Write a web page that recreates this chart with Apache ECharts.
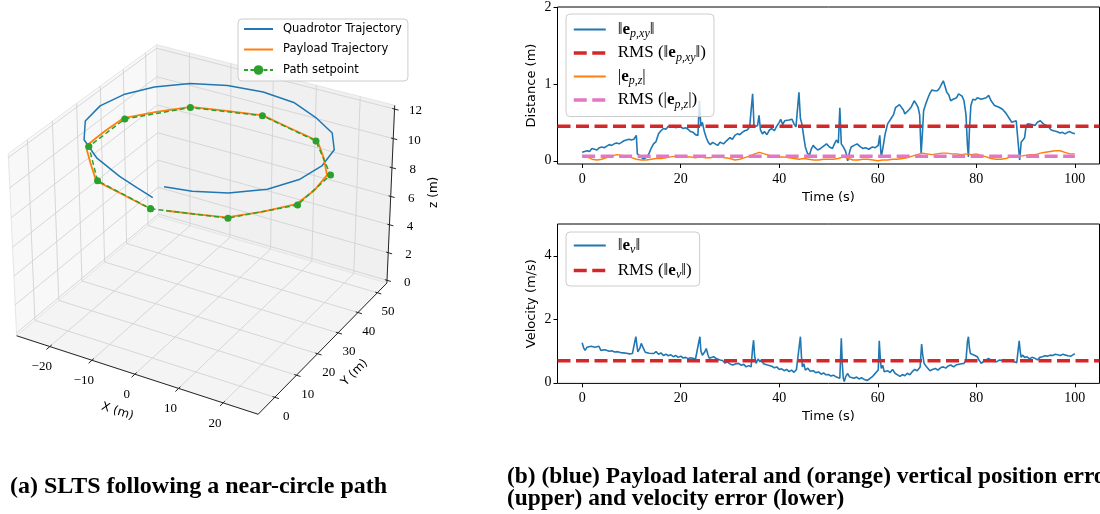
<!DOCTYPE html>
<html>
<head>
<meta charset="utf-8">
<script src="https://cdn.jsdelivr.net/npm/echarts@6/dist/echarts.min.js"></script>
<style>
  html, body { margin: 0; padding: 0; background: #fff; }
  #chart { width: 1100px; height: 514px; }
</style>
</head>
<body>
<div id="chart"></div>
<script>
// ---------------- data: 3D trajectories (metres) ----------------
const quadX = [3.1, 8.65, 14.93, 20.63, 24.06, 25.3, 24.35, 20.63, 14.58, 7.82, 0.0, -7.82, -14.93, -20.47, -23.97, -25.3, -24.35, -20.63, -14.69, -7.66, -3.41, 0.0];
const quadY = [0.0, 1.23, 4.45, 10.01, 17.18, 25.0, 32.91, 39.99, 45.06, 49.06, 50.2, 49.06, 45.55, 39.87, 32.79, 25.0, 17.09, 10.01, 4.77, 1.41, 0.74, 1.0];
const quadZ = [11.7, 11.7, 11.7, 11.7, 11.7, 11.7, 11.7, 11.65, 11.6, 11.6, 11.6, 11.6, 11.6, 11.6, 11.65, 11.7, 11.7, 11.6, 11.5, 11.3, 11.0, 10.6];

const payX = [3.0, 8.5, 14.3, 19.3, 23.4, 23.9, 23.2, 19.4, 14.9, 7.4, 0.0, -7.5, -14.8, -19.8, -24.2, -24.5, -24.4, -19.8, -14.9, -7.4, -1.2];
const payY = [0.9, 2.8, 4.9, 11.0, 17.4, 25.0, 32.3, 38.9, 45.5, 47.8, 50.2, 48.0, 45.6, 39.4, 33.0, 25.0, 17.1, 10.9, 4.6, 2.3, 0.3];
const payZ = [10.0, 10.0, 10.0, 10.0, 10.0, 10.0, 10.0, 10.0, 10.0, 10.0, 10.0, 10.0, 10.0, 10.0, 10.0, 10.0, 10.0, 10.0, 10.0, 10.0, 10.0];

const spX = [0, 14.69, 23.78, 23.78, 14.69, 0, -14.69, -23.78, -23.78, -14.69, 0];
const spY = [0, 4.78, 17.28, 32.72, 45.22, 50, 45.22, 32.72, 17.28, 4.78, 0];
const spZ = [10, 10, 10, 10, 10, 10, 10, 10, 10, 10, 10];

// 3D axis limits and ticks
const LIM_X = [-28, 27.75];
const LIM_Y = [-7.5, 55];
const LIM_Z = [-0.2, 12.25];
const TICKS_X = [-20, -10, 0, 10, 20];
const TICKS_Y = [0, 10, 20, 30, 40, 50];
const TICKS_Z = [0, 2, 4, 6, 8, 10, 12];

// ---------------- data: error time series ----------------
const posXY = [[0,0.11],[0.5,0.12],[1,0.13],[1.5,0.12],[2,0.16],[2.5,0.15],[3,0.14],[3.5,0.17],[4,0.18],[4.5,0.17],[5,0.19],[5.5,0.21],[6,0.2],[6.5,0.22],[7,0.23],[7.5,0.22],[8,0.24],[8.5,0.26],[9,0.27],[9.5,0.28],[10,0.27],[10.5,0.28],[11,0.33],[11.2,0.09],[11.6,0.1],[12,0.05],[12.4,0.02],[12.8,0.04],[13.2,0.05],[13.6,0.1],[14,0.16],[14.5,0.22],[15,0.25],[15.5,0.35],[16,0.39],[16.5,0.42],[17,0.41],[17.5,0.45],[18,0.44],[18.5,0.46],[19,0.43],[19.5,0.44],[20,0.44],[20.5,0.42],[21,0.43],[21.5,0.41],[22,0.38],[22.5,0.37],[23,0.34],[23.5,0.33],[23.8,0.78],[24.1,0.45],[24.4,0.5],[24.8,0.38],[25.2,0.3],[25.6,0.24],[26,0.21],[26.5,0.24],[27,0.22],[27.5,0.2],[28,0.24],[28.7,0.22],[29.3,0.26],[30,0.3],[30.5,0.28],[31,0.33],[31.5,0.35],[32,0.34],[32.5,0.37],[33,0.39],[33.5,0.4],[34,0.44],[34.3,0.42],[34.6,0.87],[34.9,0.44],[35.3,0.42],[35.6,0.46],[35.9,0.59],[36.2,0.4],[36.6,0.35],[37,0.38],[37.5,0.34],[38,0.4],[38.5,0.42],[39,0.39],[39.5,0.45],[40,0.5],[40.3,0.54],[40.7,0.47],[41.1,0.52],[41.5,0.5],[42,0.53],[42.6,0.54],[43,0.48],[43.4,0.44],[43.8,0.45],[44,0.89],[44.3,0.55],[44.6,0.48],[45,0.3],[45.3,0.18],[45.7,0.1],[46.1,0.07],[46.5,0.15],[46.9,0.2],[47.3,0.17],[47.8,0.14],[48.4,0.16],[49,0.19],[49.6,0.22],[50.2,0.18],[50.8,0.16],[51.2,0.22],[51.6,0.27],[52,0.23],[52.3,0.69],[52.6,0.22],[53,0.18],[53.5,0.12],[53.9,0.0],[54.3,0.12],[54.6,0.18],[55.2,0.2],[55.8,0.22],[56.5,0.18],[57,0.16],[57.5,0.17],[58.2,0.15],[58.9,0.18],[59.5,0.17],[60.1,0.2],[60.4,0.33],[60.7,0.05],[61,0.15],[61.5,0.35],[62,0.48],[62.4,0.5],[62.8,0.56],[63.2,0.6],[63.6,0.69],[64,0.67],[64.4,0.73],[64.8,0.74],[65.2,0.66],[65.5,0.61],[65.9,0.63],[66.3,0.66],[66.8,0.7],[67.4,0.78],[67.8,0.74],[68.2,0.69],[68.5,0.6],[68.8,0.09],[69.1,0.4],[69.3,0.65],[69.8,0.75],[70.2,0.82],[70.6,0.88],[71,0.92],[71.5,0.91],[72.1,0.91],[72.5,0.94],[72.9,0.99],[73.3,1.04],[73.6,0.98],[74,0.89],[74.4,0.86],[74.8,0.78],[75.3,0.8],[76,0.82],[76.4,0.87],[76.7,0.89],[77.1,0.84],[77.5,0.78],[77.9,0.6],[78.2,0.2],[78.4,0.05],[78.6,0.4],[78.9,0.72],[79.3,0.8],[79.8,0.79],[80.2,0.82],[80.6,0.84],[81,0.8],[81.4,0.78],[82,0.82],[82.5,0.85],[83,0.78],[83.7,0.72],[84.5,0.7],[85.3,0.67],[86,0.62],[86.8,0.54],[87.2,0.5],[87.6,0.48],[88.1,0.52],[88.5,0.5],[88.8,0.01],[89.1,0.24],[89.4,0.22],[89.8,0.3],[90.1,0.45],[90.4,0.48],[90.8,0.46],[91.3,0.47],[91.9,0.46],[92.4,0.5],[93,0.52],[93.6,0.48],[94.2,0.46],[94.8,0.43],[95.2,0.4],[95.7,0.39],[96.3,0.38],[97,0.36],[97.5,0.37],[98,0.35],[98.5,0.37],[99,0.38],[99.5,0.36],[100,0.35]];
const posZ = [[0,0.07],[1,0.05],[2,0.02],[3,0.01],[4,0.02],[5,0.04],[6,0.06],[7,0.08],[8,0.07],[9,0.06],[10,0.04],[11,0.02],[12,0.01],[13,0.01],[14,0.02],[15,0.03],[16,0.03],[17,0.04],[18,0.05],[19,0.06],[20,0.06],[21,0.05],[22,0.05],[23,0.04],[24,0.05],[25,0.04],[26,0.04],[27,0.05],[28,0.05],[29,0.04],[30,0.03],[31,0.01],[32,0.02],[33,0.04],[34,0.06],[35,0.09],[36,0.11],[37,0.09],[38,0.07],[39,0.06],[40,0.05],[41,0.05],[42,0.04],[43,0.03],[44,0.02],[45,0.03],[46,0.02],[47,0.01],[48,0.01],[49,0.02],[50,0.02],[51,0.02],[52,0.03],[53,0.05],[54,0.03],[55,0.01],[56,0.01],[57,0.02],[58,0.02],[59,0.01],[60,0.0],[61,0.01],[62,0.01],[63,0.02],[64,0.02],[65,0.03],[66,0.04],[67,0.06],[68,0.08],[69,0.1],[70,0.09],[71,0.08],[72,0.09],[73,0.1],[74,0.1],[75,0.09],[76,0.09],[77,0.08],[78,0.09],[79,0.08],[80,0.09],[81,0.07],[82,0.05],[83,0.03],[84,0.02],[85,0.02],[86,0.03],[87,0.05],[88,0.05],[89,0.06],[90,0.07],[91,0.08],[92,0.08],[93,0.1],[94,0.11],[95,0.12],[96,0.13],[97,0.13],[98,0.11],[99,0.09],[100,0.09]];
const velErr = [[0,1.26],[0.3,1.1],[0.6,1.02],[1,1.12],[1.4,1.08],[1.8,1.15],[2.2,1.18],[2.6,1.12],[3,1.08],[3.4,1.15],[3.8,1.02],[4.2,0.98],[4.6,1.04],[5,1.03],[5.5,0.99],[6,1.01],[6.6,0.97],[7.2,0.98],[7.8,0.95],[8.4,0.94],[9,0.93],[9.6,0.91],[10.2,0.92],[10.6,0.93],[10.9,1.45],[11.1,1.2],[11.3,0.97],[11.7,1.08],[12,1.24],[12.4,1.1],[12.8,0.96],[13.2,1.0],[13.6,0.93],[14,0.96],[14.5,0.92],[15,0.98],[15.5,0.9],[16,0.94],[16.5,0.86],[17,0.9],[17.5,0.85],[18,0.88],[18.5,0.82],[19,0.86],[19.5,0.8],[20,0.84],[20.5,0.78],[21,0.8],[21.5,0.76],[22,0.79],[22.5,0.77],[23,0.74],[23.4,0.72],[23.7,1.3],[23.9,1.45],[24.1,1.0],[24.4,0.87],[24.8,0.95],[25.2,1.08],[25.5,0.9],[25.8,0.77],[26.2,0.83],[26.7,0.82],[27.2,0.76],[27.6,0.8],[28,0.72],[28.5,0.7],[29,0.62],[29.5,0.66],[30,0.59],[30.6,0.56],[31.2,0.6],[31.8,0.61],[32.3,0.55],[32.8,0.58],[33.3,0.5],[33.8,0.54],[34.3,0.5],[34.6,1.1],[34.8,1.34],[35.0,0.85],[35.3,0.61],[35.7,0.75],[36.1,0.66],[36.4,0.73],[36.8,0.6],[37.2,0.64],[37.6,0.56],[38,0.6],[38.5,0.52],[39,0.47],[39.5,0.5],[40,0.42],[40.5,0.44],[41,0.38],[41.5,0.42],[42,0.35],[42.5,0.4],[43,0.33],[43.5,0.42],[43.9,0.45],[44.1,1.2],[44.3,1.45],[44.5,0.85],[44.7,0.5],[45,0.6],[45.3,0.4],[45.8,0.46],[46.3,0.36],[46.9,0.38],[47.4,0.32],[48,0.34],[48.5,0.27],[49,0.31],[49.5,0.25],[50,0.26],[50.5,0.21],[51,0.24],[51.6,0.18],[52,0.2],[52.3,0.14],[52.5,1.0],[52.6,1.4],[52.8,0.6],[53,0.14],[53.2,0.04],[53.5,0.2],[53.9,0.29],[54.3,0.18],[54.7,0.24],[55.2,0.14],[55.7,0.18],[56.2,0.12],[56.7,0.16],[57.3,0.1],[57.8,0.07],[58.3,0.12],[58.9,0.19],[59.4,0.28],[59.8,0.32],[60.1,0.4],[60.3,1.32],[60.5,0.8],[60.7,0.45],[61,0.55],[61.3,0.35],[61.6,0.29],[62,0.38],[62.5,0.32],[63,0.42],[63.5,0.3],[64,0.25],[64.5,0.2],[65,0.26],[65.5,0.22],[66,0.3],[66.5,0.25],[67,0.35],[67.5,0.42],[68,0.38],[68.6,0.5],[68.9,1.22],[69.1,0.9],[69.4,0.61],[69.8,0.52],[70.2,0.45],[70.6,0.38],[71.1,0.42],[71.7,0.45],[72.2,0.4],[72.8,0.48],[73.3,0.5],[73.8,0.46],[74.3,0.53],[74.8,0.56],[75.4,0.5],[76,0.57],[76.4,0.56],[77,0.6],[77.5,0.61],[77.9,0.7],[78.2,1.3],[78.4,1.45],[78.6,1.1],[78.8,0.92],[79.2,0.95],[79.7,0.86],[80.2,0.82],[80.6,0.7],[81,0.61],[81.5,0.68],[82,0.72],[82.5,0.77],[83,0.7],[83.6,0.68],[84.1,0.66],[84.7,0.72],[85.2,0.7],[85.7,0.73],[86.2,0.68],[86.7,0.72],[87.2,0.69],[87.7,0.66],[88.2,0.63],[88.5,0.61],[88.7,1.32],[88.9,1.0],[89.1,0.8],[89.4,0.87],[89.8,0.8],[90.3,0.82],[90.8,0.75],[91.3,0.8],[91.9,0.77],[92.4,0.72],[92.9,0.8],[93.4,0.82],[93.9,0.85],[94.5,0.84],[95,0.87],[95.5,0.86],[96,0.9],[96.5,0.88],[97,0.86],[97.6,0.9],[98.1,0.87],[98.6,0.85],[99.2,0.84],[99.6,0.88],[100,0.92]];
const RMS_POS_XY = 0.45;
const RMS_POS_Z = 0.06;
const RMS_VEL = 0.69;
const TIME_TICKS = [0, 20, 40, 60, 80, 100];
const DIST_TICKS = [0, 1, 2];
const VEL_TICKS = [0, 2, 4];

// ---------------- perspective camera (elev 30, azim -60) ----------------
const VIEW = { elev: 30, azim: -60, dist: 10, focal: 1, aspect: [4, 4, 3] };
const sub = (a, b) => a.map((v, i) => v - b[i]);
const dot = (a, b) => a[0] * b[0] + a[1] * b[1] + a[2] * b[2];
const cross = (a, b) => [a[1] * b[2] - a[2] * b[1], a[2] * b[0] - a[0] * b[2], a[0] * b[1] - a[1] * b[0]];
const unit = a => { const n = Math.hypot(a[0], a[1], a[2]); return a.map(v => v / n); };

function makeProjector() {
  const n = Math.hypot(...VIEW.aspect);
  const box = VIEW.aspect.map(a => a * 1.8294640721620434 / n);
  const el = VIEW.elev * Math.PI / 180, az = VIEW.azim * Math.PI / 180;
  const ps = [Math.cos(el) * Math.cos(az), Math.cos(el) * Math.sin(az), Math.sin(el)];
  const R = box.map(b => b / 2);
  const eye = R.map((r, i) => r + VIEW.dist * ps[i] * VIEW.focal);
  const w = unit(ps);
  const u = unit(cross([0, 0, 1], w));
  const v = cross(w, u);
  const lims = [LIM_X, LIM_Y, LIM_Z];
  return (x, y, z) => {
    const p = [x, y, z].map((c, i) => (c - lims[i][0]) / (lims[i][1] - lims[i][0]) * box[i]);
    const d = sub(p, eye);
    const depth = -dot(w, d);
    return [VIEW.focal * dot(u, d) / depth, VIEW.focal * dot(v, d) / depth];
  };
}
const project = makeProjector();

// projected view window (square) and where it sits on the page; the part
// left of the page edge is cut off, so the cartesian starts at x = 0
const VIEW_WIN = [-0.095, 0.09];
const PANEL3D = { left: -25, top: 3, size: 448 };
const PX_PER_UNIT = PANEL3D.size / (VIEW_WIN[1] - VIEW_WIN[0]);
const VIEW_XMIN = VIEW_WIN[0] - PANEL3D.left / PX_PER_UNIT;

// ---------------- 3D box: panes, grid, axes, labels ----------------
const [xa, xb] = LIM_X, [ya, yb] = LIM_Y, [za, zb] = LIM_Z;
const GRID_COLOR = '#d2d2d2';
const AXIS_COLOR = '#262626';
const SERIF = '"Liberation Serif", "DejaVu Serif", serif';
const SANS = '"DejaVu Sans", sans-serif';
const prims = [];
// back panes
prims.push({ kind: 'poly', pts: [[xa, ya, za], [xa, yb, za], [xa, yb, zb], [xa, ya, zb]], fill: '#f8f8f8' });
prims.push({ kind: 'poly', pts: [[xa, yb, za], [xb, yb, za], [xb, yb, zb], [xa, yb, zb]], fill: '#f0f0f0' });
prims.push({ kind: 'poly', pts: [[xa, ya, za], [xb, ya, za], [xb, yb, za], [xa, yb, za]], fill: '#f4f4f4' });
// grid lines on the panes
TICKS_X.forEach(x => {
  prims.push({ kind: 'line', pts: [[x, ya, za], [x, yb, za]], color: GRID_COLOR, width: 0.9 });
  prims.push({ kind: 'line', pts: [[x, yb, za], [x, yb, zb]], color: GRID_COLOR, width: 0.9 });
});
TICKS_Y.forEach(y => {
  prims.push({ kind: 'line', pts: [[xa, y, za], [xb, y, za]], color: GRID_COLOR, width: 0.9 });
  prims.push({ kind: 'line', pts: [[xa, y, za], [xa, y, zb]], color: GRID_COLOR, width: 0.9 });
});
TICKS_Z.forEach(z => {
  prims.push({ kind: 'line', pts: [[xa, ya, z], [xa, yb, z]], color: GRID_COLOR, width: 0.9 });
  prims.push({ kind: 'line', pts: [[xa, yb, z], [xb, yb, z]], color: GRID_COLOR, width: 0.9 });
});
// axis lines
prims.push({ kind: 'line', pts: [[xa, ya, za], [xb, ya, za]], color: AXIS_COLOR, width: 1 });
prims.push({ kind: 'line', pts: [[xb, ya, za], [xb, yb, za]], color: AXIS_COLOR, width: 1 });
prims.push({ kind: 'line', pts: [[xb, yb, za], [xb, yb, zb]], color: AXIS_COLOR, width: 1 });
// ticks and tick labels
const fmtNum = v => (v < 0 ? '\u2212' + Math.abs(v) : String(v));
TICKS_X.forEach(x => {
  prims.push({ kind: 'line', pts: [[x, ya + 0.8, za], [x, ya - 1.4, za]], color: AXIS_COLOR, width: 1 });
  prims.push({ kind: 'text', at: [x, ya - 3.5, za - 0.9], text: fmtNum(x), font: '13px ' + SERIF });
});
TICKS_Y.forEach(y => {
  prims.push({ kind: 'line', pts: [[xb - 0.5, y, za], [xb + 0.9, y, za]], color: AXIS_COLOR, width: 1 });
  prims.push({ kind: 'text', at: [xb + 2.6, y, za - 1.1], text: fmtNum(y), font: '13px ' + SERIF });
});
TICKS_Z.forEach(z => {
  prims.push({ kind: 'line', pts: [[xb - 0.5, yb, z], [xb + 0.9, yb, z]], color: AXIS_COLOR, width: 1 });
  prims.push({ kind: 'text', at: [xb + 4.0, yb + 1.6, z], text: fmtNum(z), font: '13px ' + SERIF });
});
// axis titles
prims.push({ kind: 'text', at: [0.8, ya - 8.9, za - 1.15], text: 'X (m)', font: '12px ' + SANS, rotation: -0.3135 });
prims.push({ kind: 'text', at: [xb + 6.2, 25, za - 1.5], text: 'Y (m)', font: '12px ' + SANS, rotation: 0.794 });
prims.push({ kind: 'text', at: [xb + 6.9, yb + 6.7, 6], text: 'z (m)', font: '12px ' + SANS, rotation: Math.PI / 2 });

function renderFrame(params, api) {
  const p = prims[params.dataIndex];
  if (p.kind === 'text') {
    const c = api.coord(project(...p.at));
    return {
      type: 'text', x: c[0], y: c[1], rotation: p.rotation || 0,
      style: { text: p.text, font: p.font, fill: '#000', align: 'center', verticalAlign: 'middle' }
    };
  }
  const pts = p.pts.map(q => api.coord(project(...q)));
  if (p.kind === 'poly') {
    return { type: 'polygon', shape: { points: pts }, style: { fill: p.fill, stroke: '#e6e6e6', lineWidth: 1 } };
  }
  return { type: 'polyline', shape: { points: pts }, style: { stroke: p.color, lineWidth: p.width, fill: null } };
}

const toScreen3D = (xs, ys, zs) => xs.map((x, i) => project(x, ys[i], zs[i]));

// ---------------- legend labels ----------------
const LEGEND_TEXT = {
  exy: '{n|\u2016}{b|e}{s|p,xy}{n|\u2016}',
  rmsxy: '{n|RMS (\u2016}{b|e}{s|p,xy}{n|\u2016)}',
  ez: '{n||}{b|e}{s|p,z}{n||}',
  rmsz: '{n|RMS (|}{b|e}{s|p,z}{n||)}',
  ev: '{n|\u2016}{b|e}{s|v}{n|\u2016}',
  rmsv: '{n|RMS (\u2016}{b|e}{s|v}{n|\u2016)}'
};
const RICH = {
  n: { fontFamily: SERIF, fontSize: 17, lineHeight: 21, color: '#000' },
  b: { fontFamily: SERIF, fontSize: 17, fontWeight: 'bold', lineHeight: 21, color: '#000' },
  s: { fontFamily: SERIF, fontSize: 12, fontStyle: 'italic', lineHeight: 12, verticalAlign: 'bottom', color: '#000' }
};
const legendBox = {
  orient: 'vertical', selectedMode: false,
  backgroundColor: 'rgba(255,255,255,0.8)', borderColor: '#cccccc', borderWidth: 1, borderRadius: 4
};
const plainItem = (name, dash) => ({
  name, itemStyle: { opacity: 0 },
  lineStyle: dash ? { type: dash, width: 3.5 } : { width: 2 }
});

const lineSeries = (name, data, color, width, dash, xi, yi, z) => ({
  type: 'line', name, data, xAxisIndex: xi, yAxisIndex: yi, z,
  symbol: 'none', showSymbol: false, animation: false, silent: true,
  lineStyle: { color, width, type: dash || 'solid' }, itemStyle: { color }
});

const timeAxis = (gridIndex) => ({
  type: 'value', gridIndex, min: -5, max: 105,
  name: 'Time (s)', nameLocation: 'middle', nameGap: 27,
  nameTextStyle: { fontFamily: SANS, fontSize: 13, color: '#000' },
  axisLine: { show: false, onZero: false }, splitLine: { show: false },
  axisTick: { show: true, length: 4, customValues: TIME_TICKS, lineStyle: { color: '#000', width: 1 } },
  axisLabel: { customValues: TIME_TICKS, fontFamily: SERIF, fontSize: 14, color: '#000', margin: 8 }
});
const valueAxis = (gridIndex, min, max, ticks, name) => ({
  type: 'value', gridIndex, min, max,
  name, nameLocation: 'middle', nameGap: 19, nameRotate: 90,
  nameTextStyle: { fontFamily: SANS, fontSize: 13, color: '#000' },
  axisLine: { show: false, onZero: false }, splitLine: { show: false },
  axisTick: { show: true, length: 4, customValues: ticks, lineStyle: { color: '#000', width: 1 } },
  axisLabel: { customValues: ticks, fontFamily: SERIF, fontSize: 14, color: '#000', margin: 6 }
});

const chart = echarts.init(document.getElementById('chart'), null, { renderer: 'canvas' });
chart.setOption({
  backgroundColor: '#fff',
  animation: false,
  grid: [
    { left: 0, top: PANEL3D.top, width: PANEL3D.size + PANEL3D.left, height: PANEL3D.size, show: false },
    { left: 557.5, top: 5.5, width: 542, height: 158.5, show: true, borderColor: '#000', borderWidth: 1 },
    { left: 557.5, top: 224, width: 542, height: 159.4, show: true, borderColor: '#000', borderWidth: 1 }
  ],
  xAxis: [
    { type: 'value', gridIndex: 0, min: VIEW_XMIN, max: VIEW_WIN[1], show: false },
    timeAxis(1),
    timeAxis(2)
  ],
  yAxis: [
    { type: 'value', gridIndex: 0, min: VIEW_WIN[0], max: VIEW_WIN[1], show: false },
    valueAxis(1, -0.042, 2, DIST_TICKS, 'Distance (m)'),
    valueAxis(2, -0.02, 5, VEL_TICKS, 'Velocity (m/s)')
  ],
  legend: [
    Object.assign({}, legendBox, {
      left: 238, top: 19, padding: [4, 6, 5, 5], itemWidth: 29, itemHeight: 12, itemGap: 8.5,
      data: [
        { name: 'Quadrotor Trajectory', itemStyle: { opacity: 0 } },
        { name: 'Payload Trajectory', itemStyle: { opacity: 0 } },
        { name: 'Path setpoint', lineStyle: { type: [4, 2.5] } }
      ],
      textStyle: { fontFamily: SANS, fontSize: 11.5, color: '#000', padding: [0, 0, 0, 5] }
    }),
    Object.assign({}, legendBox, {
      left: 566, top: 14, padding: [7, 8, 6, 6], itemWidth: 32, itemHeight: 12, itemGap: 4.5,
      data: [plainItem('exy'), plainItem('rmsxy', [13, 5.5]), plainItem('ez'), plainItem('rmsz', [13, 5.5])],
      formatter: n => LEGEND_TEXT[n],
      textStyle: { rich: RICH, padding: [0, 0, 0, 7] }
    }),
    Object.assign({}, legendBox, {
      left: 566, top: 232, padding: [5, 8, 5, 6], itemWidth: 32, itemHeight: 12, itemGap: 6,
      data: [plainItem('ev'), plainItem('rmsv', [13, 5.5])],
      formatter: n => LEGEND_TEXT[n],
      textStyle: { rich: RICH, padding: [0, 0, 0, 7] }
    })
  ],
  series: [
    {
      type: 'custom', xAxisIndex: 0, yAxisIndex: 0, z: 1, silent: true, animation: false,
      data: prims.map(() => [0, 0]), renderItem: renderFrame
    },
    Object.assign(lineSeries('Quadrotor Trajectory', toScreen3D(quadX, quadY, quadZ), '#1f77b4', 1.5, null, 0, 0, 3), { clip: false }),
    Object.assign(lineSeries('Payload Trajectory', toScreen3D(payX, payY, payZ), '#ff7f0e', 1.8, null, 0, 0, 3), { clip: false }),
    {
      type: 'line', name: 'Path setpoint', data: toScreen3D(spX, spY, spZ), xAxisIndex: 0, yAxisIndex: 0, z: 4,
      clip: false, symbol: 'circle', symbolSize: 7, showSymbol: true, animation: false, silent: true,
      lineStyle: { color: '#2ca02c', width: 1.5, type: [5, 3] }, itemStyle: { color: '#2ca02c' }
    },
    lineSeries('exy', posXY, '#1f77b4', 1.6, null, 1, 1, 3),
    lineSeries('rmsxy', [[-5, RMS_POS_XY], [105, RMS_POS_XY]], '#d62728', 3.5, [13, 5.5], 1, 1, 4),
    lineSeries('ez', posZ, '#ff7f0e', 1.4, null, 1, 1, 5),
    lineSeries('rmsz', [[0, RMS_POS_Z], [100, RMS_POS_Z]], '#e377c2', 3.5, [13, 5.5], 1, 1, 6),
    lineSeries('ev', velErr, '#1f77b4', 1.6, null, 2, 2, 3),
    lineSeries('rmsv', [[-5, RMS_VEL], [105, RMS_VEL]], '#d62728', 3.5, [13, 5.5], 2, 2, 4)
  ],
  graphic: [
    { type: 'text', x: 10, y: 487, style: { text: '(a) SLTS following a near-circle path', font: 'bold 24px "Liberation Serif"', fill: '#000', verticalAlign: 'middle' } },
    { type: 'text', x: 507, y: 477, style: { text: '(b) (blue) Payload lateral and (orange) vertical position error', font: 'bold 23.4px "Liberation Serif"', fill: '#000', verticalAlign: 'middle' } },
    { type: 'text', x: 507, y: 499, style: { text: '(upper) and velocity error (lower)', font: 'bold 23.4px "Liberation Serif"', fill: '#000', verticalAlign: 'middle' } }
  ]
});
</script>
</body>
</html>
